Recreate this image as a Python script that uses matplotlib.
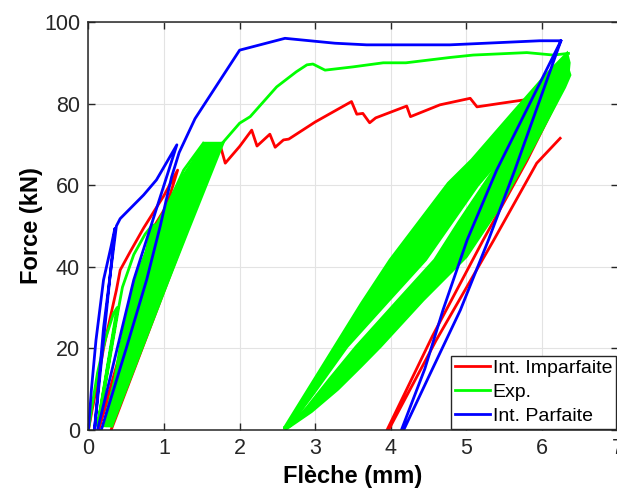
import matplotlib.pyplot as plt
import numpy as np

plt.rcParams['font.family'] = ['Liberation Sans', 'DejaVu Sans']

RED = '#ff0000'
GREEN = '#00ff00'
BLUE = '#0000ff'

# --- Int. Imparfaite : first cycles, envelope, last unload / reload
red_cyc_x = [0.00, 0.05, 0.11, 0.20, 0.30, 0.37, 0.42, 0.55, 0.73, 1.00, 1.18,
             0.13, 0.50, 0.84, 1.10, 1.18, 1.27, 0.30]
red_cyc_y = [0.0, 5.0, 10.6, 20.0, 28.5, 34.3, 39.2, 43.6, 49.5, 57.5, 63.7,
             0.0, 24.0, 49.0, 57.0, 58.7, 58.7, 0.0]
red_env_x = [1.74, 1.81, 2.00, 2.16, 2.23, 2.40, 2.47, 2.58, 2.65, 3.00, 3.48,
             3.55, 3.63, 3.72, 3.80, 4.21, 4.26, 4.65, 5.05, 5.14, 5.50, 5.80, 6.20]
red_env_y = [70.0, 65.4, 69.5, 73.5, 69.6, 72.5, 69.3, 71.1, 71.3, 75.5, 80.5,
             77.4, 77.6, 75.3, 76.5, 79.4, 76.8, 79.7, 81.3, 79.2, 80.2, 81.0, 80.8]
red_end_x = [5.80, 5.22, 4.55, 3.95, 3.97, 4.60, 5.36, 5.93, 6.24]
red_end_y = [66.0, 46.5, 23.0, 0.0, 0.0, 22.0, 46.5, 65.4, 71.5]

# --- Exp. : loading with cycles at 30 and 50 kN
grn_start_x = [0.00, 0.04, 0.12, 0.22, 0.33, 0.38, 0.12, 0.39, 0.13, 0.40,
               0.45, 0.60, 0.75, 0.85, 0.20, 0.88, 0.22, 0.90,
               1.06, 1.26, 1.52]
grn_start_y = [0.0, 5.0, 14.0, 22.0, 28.5, 30.0, 1.0, 30.0, 1.0, 30.0,
               35.0, 43.0, 48.0, 50.3, 1.0, 50.3, 1.0, 50.3,
               55.6, 63.7, 70.3]
# dense cycles at 70 kN (outline of the band)
grn_band70_x = [0.25, 0.42, 0.62, 0.88, 1.23, 1.54, 1.78, 1.32, 1.06, 0.31]
grn_band70_y = [1.0, 20.4, 36.8, 49.0, 61.6, 70.3, 70.3, 49.0, 36.8, 1.0]
# last reload up to the maximum force
grn_env_x = [0.31, 0.45, 0.62, 0.88, 1.15, 1.50, 1.78, 2.00, 2.14, 2.49, 2.75,
             2.89, 2.97, 3.13, 3.50, 3.90, 4.20, 4.78, 5.09, 5.80, 6.15, 6.35]
grn_env_y = [1.0, 18.0, 36.8, 49.0, 58.8, 66.5, 70.5, 75.2, 76.8, 84.1, 87.8,
             89.5, 89.7, 88.2, 89.0, 90.0, 90.0, 91.3, 91.9, 92.5, 91.9, 92.3]
# large cycles: reload band and unload band
grn_reload_x = [2.60, 3.61, 3.99, 4.76, 5.07, 5.60, 6.05, 6.33,
                6.36, 6.34, 5.80, 5.15, 4.46, 3.98, 3.42, 2.98, 2.70, 2.62]
grn_reload_y = [0.8, 31.0, 41.7, 60.5, 66.2, 77.5, 87.0, 92.3,
                90.0, 86.0, 74.0, 60.0, 41.7, 31.9, 20.4, 9.0, 2.0, 0.5]
grn_unload_x = [6.32, 5.88, 5.37, 4.90, 4.58, 4.10, 3.54, 3.19, 2.89, 2.66, 2.58,
                2.62, 2.95, 3.30, 3.60, 3.86, 4.43, 5.00, 5.45, 5.90, 6.30, 6.37]
grn_unload_y = [90.0, 78.0, 64.0, 51.0, 41.7, 31.9, 20.4, 12.5, 5.5, 1.0, 0.5,
                0.3, 4.5, 10.0, 15.5, 20.4, 31.9, 42.5, 55.0, 70.0, 84.0, 87.0]

# --- Int. Parfaite
blu_x = [0.00, 0.04, 0.10, 0.20, 0.30, 0.35, 0.08,
         0.20, 0.28, 0.37, 0.42, 0.73, 0.90, 1.17,
         0.81, 0.60, 0.12,
         0.17, 0.50, 0.77, 0.95, 1.10, 1.20, 1.41, 2.00, 2.60, 3.26, 3.68,
         4.78, 5.97, 6.25,
         5.64, 5.29, 4.92, 4.50, 4.17,
         4.14, 4.45, 4.69, 5.01, 5.40, 6.25]
blu_y = [0.0, 10.0, 22.0, 36.8, 45.0, 49.4, 0.0,
         25.0, 36.8, 50.0, 51.8, 57.6, 61.3, 69.9,
         49.0, 36.8, 0.0,
         0.0, 20.0, 36.8, 50.0, 62.0, 68.0, 76.3, 93.1, 96.0, 94.8, 94.4,
         94.4, 95.4, 95.4,
         63.7, 46.5, 29.4, 13.0, 0.0,
         0.0, 15.0, 29.4, 46.6, 63.7, 95.4]

fig = plt.figure(figsize=(6.17, 4.91), dpi=100)
ax = fig.add_axes([0.1433, 0.1242, 0.8577, 0.831])

lw = 2.0
ax.plot(np.r_[red_cyc_x, red_env_x, red_end_x], np.r_[red_cyc_y, red_env_y, red_end_y],
        color=RED, lw=lw, label='Int. Imparfaite', zorder=3)

ax.plot(grn_start_x, grn_start_y, color=GREEN, lw=lw, label='Exp.', zorder=4)
ax.fill(grn_band70_x, grn_band70_y, color=GREEN, lw=lw, zorder=4)
ax.plot(grn_env_x, grn_env_y, color=GREEN, lw=lw, zorder=4)
ax.fill(grn_reload_x, grn_reload_y, color=GREEN, lw=lw, zorder=4)
ax.fill(grn_unload_x, grn_unload_y, color=GREEN, lw=lw, zorder=4)

ax.plot(blu_x, blu_y, color=BLUE, lw=lw, label='Int. Parfaite', zorder=5)

ax.set_xlim(0, 7)
ax.set_ylim(0, 100)
ax.set_xticks(range(0, 8))
ax.set_yticks(range(0, 101, 20))
ax.grid(True, color='#e3e3e3', lw=0.8, zorder=0)
ax.set_axisbelow(True)
ax.tick_params(direction='in', top=True, right=True, length=5, width=1,
               color='#262626', labelsize=15.5, labelcolor='#262626', pad=6)
for s in ax.spines.values():
    s.set_color('#262626')
    s.set_linewidth(1.1)
    s.set_zorder(6)

ax.set_xlabel('Flèche (mm)', fontsize=17, fontweight='bold', labelpad=4)
ax.set_ylabel('Force (kN)', fontsize=17, fontweight='bold', labelpad=1)

leg = ax.legend(loc='lower right', bbox_to_anchor=(0.997, 0.003), fontsize=14,
                frameon=True, fancybox=False, framealpha=1, edgecolor='#262626',
                handlelength=1.8, handletextpad=0.15, labelspacing=0.32,
                borderpad=0.2, borderaxespad=0.0)
leg.get_frame().set_linewidth(1.0)
leg.set_zorder(7)

fig.savefig('out.png', dpi=100, facecolor='white')
